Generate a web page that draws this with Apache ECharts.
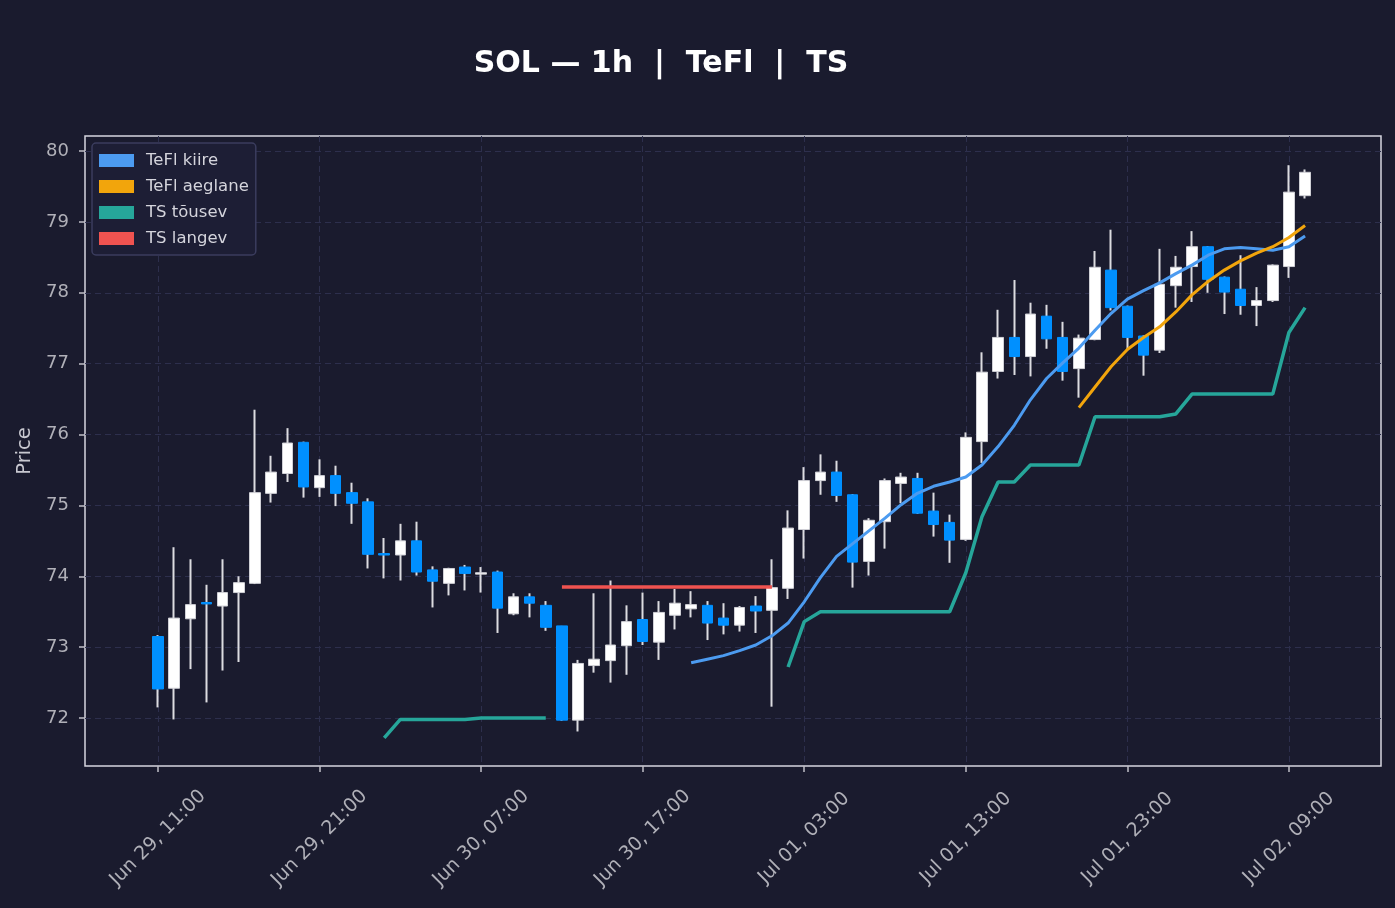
<!DOCTYPE html>
<html>
<head>
<meta charset="utf-8">
<script src="https://cdn.jsdelivr.net/npm/echarts@6/dist/echarts.min.js"></script>
<style>
html,body{margin:0;padding:0;background:#1a1b2e;}
#chart{width:1395px;height:908px;}
</style>
</head>
<body>
<div id="chart"></div>
<script>
// ---- data (hourly candles, Jun 29 11:00 -> Jul 02 10:00) ----
const opens  = [73.15,72.42,73.40,73.63,73.58,73.77,73.90,75.17,75.45,75.89,75.25,75.42,75.18,75.05,74.32,74.30,74.50,74.09,73.90,74.13,74.03,74.06,73.47,73.71,73.59,73.30,71.97,72.74,72.81,73.02,73.39,73.07,73.45,73.54,73.59,73.41,73.31,73.58,73.52,73.83,74.66,75.35,75.47,75.15,74.21,74.77,75.31,75.38,74.92,74.76,74.52,75.90,76.89,77.37,77.10,77.67,77.37,76.93,77.34,78.32,77.81,77.39,77.19,78.10,78.37,78.65,78.22,78.05,77.82,77.89,78.37,79.37];
const closes = [72.41,73.41,73.60,73.61,73.77,73.91,75.18,75.47,75.88,75.26,75.42,75.17,75.03,74.31,74.30,74.50,74.06,73.93,74.11,74.04,74.05,73.55,73.71,73.62,73.28,71.97,72.77,72.83,73.03,73.36,73.08,73.49,73.62,73.60,73.34,73.31,73.56,73.51,73.84,74.68,75.35,75.47,75.14,74.20,74.79,75.35,75.40,74.89,74.73,74.51,75.96,76.88,77.37,77.10,77.70,77.35,76.89,77.36,78.36,77.79,77.37,77.12,78.12,78.36,78.65,78.19,78.01,77.82,77.89,78.39,79.42,79.70];
const highs  = [73.17,74.41,74.24,73.88,74.24,74.00,76.35,75.70,76.09,75.90,75.65,75.56,75.32,75.10,74.54,74.74,74.77,74.14,74.12,74.16,74.13,74.08,73.76,73.76,73.65,73.30,72.82,73.76,73.94,73.59,73.77,73.65,73.82,73.79,73.65,73.62,73.58,73.72,74.24,74.93,75.54,75.72,75.63,75.16,74.82,75.38,75.46,75.46,75.18,74.87,76.03,77.16,77.76,78.18,77.86,77.83,77.59,77.41,78.59,78.89,77.82,77.40,78.62,78.52,78.87,78.66,78.23,78.53,78.08,78.40,79.80,79.74];
const lows   = [72.15,71.98,72.69,72.22,72.67,72.79,73.89,75.04,75.33,75.11,75.12,74.99,74.74,74.11,73.97,73.94,74.01,73.56,73.73,73.80,73.77,73.20,73.45,73.42,73.23,71.96,71.81,72.64,72.50,72.61,73.03,72.82,73.25,73.42,73.10,73.18,73.22,73.20,72.16,73.68,74.25,75.15,75.05,73.84,74.01,74.39,75.03,74.88,74.56,74.19,74.50,75.60,76.79,76.84,76.82,77.21,76.76,76.52,77.33,77.75,77.19,76.83,77.15,77.79,77.87,78.00,77.70,77.69,77.53,77.87,78.21,79.33];

const teflFast = [null,null,null,null,null,null,null,null,null,null,null,null,null,null,null,null,null,null,null,null,null,null,null,null,null,null,null,null,null,null,null,null,null,
  72.78,72.83,72.88,72.95,73.03,73.16,73.34,73.64,73.98,74.28,74.46,74.64,74.82,75.01,75.17,75.27,75.33,75.40,75.57,75.83,76.13,76.49,76.79,77.01,77.22,77.47,77.71,77.91,78.03,78.14,78.27,78.39,78.53,78.62,78.64,78.62,78.60,78.65,78.80];
const teflSlow = [null,null,null,null,null,null,null,null,null,null,null,null,null,null,null,null,null,null,null,null,null,null,null,null,null,null,null,null,null,null,null,null,null,null,null,null,null,null,null,null,null,null,null,null,null,null,null,null,null,null,null,null,null,null,null,null,null,
  76.38,76.67,76.96,77.20,77.37,77.52,77.73,77.97,78.16,78.32,78.45,78.56,78.65,78.78,78.95];
const tsUp = [null,null,null,null,null,null,null,null,null,null,null,null,null,null,
  71.72,71.98,71.98,71.98,71.98,71.98,72.00,72.00,72.00,72.00,72.00,
  null,null,null,null,null,null,null,null,null,null,null,null,null,null,
  72.72,73.36,73.50,73.50,73.50,73.50,73.50,73.50,73.50,73.50,73.50,74.05,74.84,75.33,75.33,75.57,75.57,75.57,75.57,76.25,76.25,76.25,76.25,76.25,76.29,76.57,76.57,76.57,76.57,76.57,76.57,77.44,77.79];
const tsDown = [null,null,null,null,null,null,null,null,null,null,null,null,null,null,null,null,null,null,null,null,null,null,null,null,null,
  73.85,73.85,73.85,73.85,73.85,73.85,73.85,73.85,73.85,73.85,73.85,73.85,73.85,73.85,
  null,null,null,null,null,null,null,null,null,null,null,null,null,null,null,null,null,null,null,null,null,null,null,null,null,null,null,null,null,null,null,null,null];

const tickIndex  = [0,10,20,30,40,50,60,70];
const tickLabels = ['Jun 29, 11:00','Jun 29, 21:00','Jun 30, 07:00','Jun 30, 17:00','Jul 01, 03:00','Jul 01, 13:00','Jul 01, 23:00','Jul 02, 09:00'];
const priceTicks = [72,73,74,75,76,77,78,79,80];

// ---- build ----
const FONT = 'DejaVu Sans';
const wickData = opens.map((o,i)=>[i, o, closes[i], lows[i], highs[i]]);
const bodyData = opens.map((o,i)=>[i, o, closes[i], Math.min(o,closes[i]), Math.max(o,closes[i])]);
const toPairs = arr => arr.map((v,i)=>[i, v==null ? '-' : v]);

const gridLine = {show:true, lineStyle:{color:'#2d2f4d', width:1, type:[6,4]}};

const chart = echarts.init(document.getElementById('chart'), null, {renderer:'canvas'});
chart.setOption({
  animation:false,
  backgroundColor:'#1a1b2e',
  title:{
    text:'SOL — 1h  |  TeFl  |  TS',
    left:656, top:44, textAlign:'center',
    textStyle:{color:'#ffffff', fontSize:30, fontWeight:'bold', fontFamily:FONT}
  },
  legend:{
    data:['TeFl kiire','TeFl aeglane','TS tõusev','TS langev'],
    orient:'vertical', left:92, top:143,
    icon:'rect', itemWidth:35, itemHeight:13, itemGap:9,
    padding:[9,7,8,7],
    backgroundColor:'#1d1e35', borderColor:'#3b3d5e', borderWidth:1.5, borderRadius:4,
    textStyle:{color:'#d4d4dc', fontSize:16.5, fontFamily:FONT, lineHeight:16, padding:[0,0,0,7]},
    selectedMode:false
  },
  grid:{left:85, right:14, top:136, bottom:142, show:true, borderColor:'#d6d6e0', borderWidth:1.5, backgroundColor:'transparent'},
  xAxis:{
    type:'value', min:-4.52, max:75.7,
    axisLine:{show:false, onZero:false},
    axisTick:{show:true, customValues:tickIndex, length:6, lineStyle:{color:'#c0c0c8', width:1.5}},
    axisLabel:{customValues:tickIndex, formatter:v=>tickLabels[tickIndex.indexOf(v)],
      rotate:45, align:'center', verticalAlign:'middle', margin:72,
      color:'#b0b0b8', fontSize:19, fontFamily:FONT},
    splitLine:gridLine
  },
  yAxis:{
    type:'value', min:71.323, max:80.212,
    axisLine:{show:false, onZero:false},
    axisTick:{show:true, customValues:priceTicks, length:6, lineStyle:{color:'#c0c0c8', width:1.5}},
    axisLabel:{customValues:priceTicks, color:'#b0b0b8', fontSize:18, fontFamily:FONT, margin:16},
    splitLine:gridLine,
    name:'Price', nameLocation:'middle', nameGap:50,
    nameTextStyle:{color:'#c8c8d0', fontSize:19.5, fontFamily:FONT}
  },
  series:[
    {
      name:'wicks', type:'candlestick', data:wickData, encode:{x:0, y:[1,2,3,4]},
      barWidth:1, silent:true, z:2,
      itemStyle:{color:'#dcdce0', color0:'#dcdce0', borderColor:'#dcdce0', borderColor0:'#dcdce0', borderColorDoji:'#dcdce0', borderWidth:2}
    },
    {
      name:'bodies', type:'candlestick', data:bodyData, encode:{x:0, y:[1,2,3,4]},
      barWidth:11, silent:true, z:3,
      itemStyle:{color:'#ffffff', color0:'#0090ff', borderColor:'#d0d0d6', borderColor0:'#0090ff', borderColorDoji:'#0090ff', borderWidth:1}
    },
    {name:'TeFl kiire', type:'line', data:toPairs(teflFast), showSymbol:false, z:5, silent:true,
      itemStyle:{color:'#4c9bf0'}, lineStyle:{color:'#4c9bf0', width:3}},
    {name:'TeFl aeglane', type:'line', data:toPairs(teflSlow), showSymbol:false, z:5, silent:true,
      itemStyle:{color:'#f2a50c'}, lineStyle:{color:'#f2a50c', width:3}},
    {name:'TS tõusev', type:'line', data:toPairs(tsUp), showSymbol:false, z:4, silent:true,
      itemStyle:{color:'#26a69a'}, lineStyle:{color:'#26a69a', width:3.5}},
    {name:'TS langev', type:'line', data:toPairs(tsDown), showSymbol:false, z:4, silent:true,
      itemStyle:{color:'#ef5350'}, lineStyle:{color:'#ef5350', width:3.5}}
  ]
});
</script>
</body>
</html>
